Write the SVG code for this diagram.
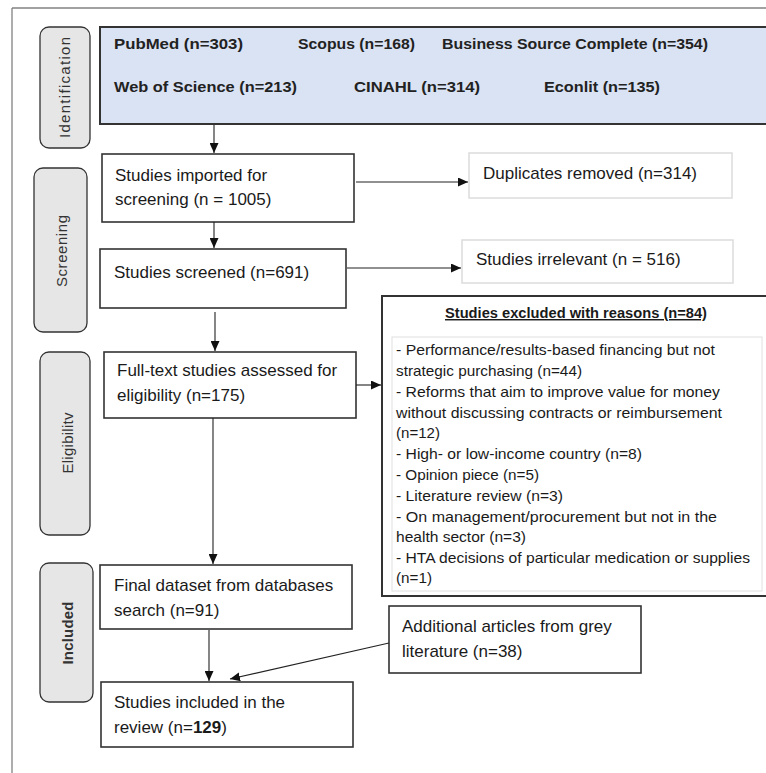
<svg xmlns="http://www.w3.org/2000/svg" width="766" height="773" viewBox="0 0 766 773">
<style>
.tab{fill:#e6e6e6;stroke:#333;stroke-width:1.3}
.box{fill:#fff;stroke:#333;stroke-width:1.6}
.lbox{fill:#fff;stroke:#dcdcdc;stroke-width:1.5}
.t{font-family:"Liberation Sans",Arial,sans-serif;font-size:17px;fill:#1a1a1a}
.h{font-family:"Liberation Sans",Arial,sans-serif;font-size:15px;font-weight:bold;fill:#222}
.tt{font-family:"Liberation Sans",Arial,sans-serif;font-size:15px;fill:#333;text-anchor:middle}
.l{font-family:"Liberation Sans",Arial,sans-serif;font-size:15px;fill:#1a1a1a}
.c{fill:none;stroke:#222;stroke-width:1.1}
</style>
<defs>
<marker id="ah" markerWidth="10" markerHeight="9" refX="10" refY="4.5" orient="auto" markerUnits="userSpaceOnUse"><path d="M0,0 L10,4.5 L0,9 z" fill="#111"/></marker>
</defs>
<rect width="766" height="773" fill="#fff"/>
<g id="frame">
<line x1="12" y1="8" x2="766" y2="8" stroke="#444" stroke-width="1.2"/>
<line x1="12" y1="8" x2="12" y2="773" stroke="#777" stroke-width="1.2"/>
</g>
<g id="tab-identification">
<rect class="tab" x="40" y="27" width="50" height="121" rx="9"/>
<text class="tt" transform="translate(70,87.5) rotate(-90)" textLength="101" lengthAdjust="spacing">Identification</text>
</g>
<g id="tab-screening">
<rect class="tab" x="34" y="168" width="53" height="164" rx="9"/>
<text class="tt" transform="translate(67,251) rotate(-90)" textLength="72" lengthAdjust="spacing">Screening</text>
</g>
<g id="tab-eligibility">
<rect class="tab" x="40" y="352" width="50" height="183" rx="9"/>
<text class="tt" transform="translate(73,443) rotate(-90)" textLength="61" lengthAdjust="spacing">Eligibilitv</text>
</g>
<g id="tab-included">
<rect class="tab" x="40" y="563" width="53" height="139" rx="9"/>
<text class="tt" transform="translate(73,633) rotate(-90)" font-weight="bold" textLength="63" lengthAdjust="spacing">Included</text>
</g>
<g id="databases">
<rect x="100" y="27" width="680" height="97" fill="#dae3f3" stroke="#333" stroke-width="2"/>
<text class="h" x="114" y="49" textLength="129" lengthAdjust="spacingAndGlyphs">PubMed (n=303)</text>
<text class="h" x="298" y="49" textLength="117" lengthAdjust="spacingAndGlyphs">Scopus (n=168)</text>
<text class="h" x="442" y="49" textLength="266" lengthAdjust="spacingAndGlyphs">Business Source Complete (n=354)</text>
<text class="h" x="114" y="92" textLength="183" lengthAdjust="spacingAndGlyphs">Web of Science (n=213)</text>
<text class="h" x="354" y="92" textLength="126" lengthAdjust="spacingAndGlyphs">CINAHL (n=314)</text>
<text class="h" x="544" y="92" textLength="116" lengthAdjust="spacingAndGlyphs">Econlit (n=135)</text>
</g>
<g id="imported">
<rect class="box" x="102" y="154" width="252" height="68"/>
<text class="t" x="115" y="181">Studies imported for</text>
<text class="t" x="115" y="205">screening (n = 1005)</text>
</g>
<g id="duplicates">
<rect class="lbox" x="469" y="153" width="263" height="45"/>
<text class="t" x="483" y="179">Duplicates removed (n=314)</text>
</g>
<g id="screened">
<rect class="box" x="100" y="249" width="246" height="59"/>
<text class="t" x="114" y="278">Studies screened (n=691)</text>
</g>
<g id="irrelevant">
<rect class="lbox" x="462" y="240" width="271" height="43"/>
<text class="t" x="476" y="265">Studies irrelevant (n = 516)</text>
</g>
<g id="fulltext">
<rect class="box" x="104" y="352" width="252" height="66"/>
<text class="t" x="117" y="376">Full-text studies assessed for</text>
<text class="t" x="117" y="401">eligibility (n=175)</text>
</g>
<g id="excluded">
<rect x="382" y="296" width="400" height="300" fill="#fff" stroke="#333" stroke-width="2"/>
<rect x="392" y="337" width="370" height="254" fill="#fff" stroke="#e0e0e0" stroke-width="1"/>
<text x="576" y="318" font-family="Liberation Sans, Arial, sans-serif" font-size="14.5" font-weight="bold" fill="#1a1a1a" text-anchor="middle" text-decoration="underline" textLength="262" lengthAdjust="spacingAndGlyphs">Studies excluded with reasons (n=84)</text>
<text class="l" x="396" y="355" textLength="319" lengthAdjust="spacingAndGlyphs">- Performance/results-based financing but not</text>
<text class="l" x="396" y="376" textLength="186" lengthAdjust="spacingAndGlyphs">strategic purchasing (n=44)</text>
<text class="l" x="396" y="397" textLength="324" lengthAdjust="spacingAndGlyphs">- Reforms that aim to improve value for money</text>
<text class="l" x="396" y="418" textLength="326" lengthAdjust="spacingAndGlyphs">without discussing contracts or reimbursement</text>
<text class="l" x="396" y="438" textLength="44" lengthAdjust="spacingAndGlyphs">(n=12)</text>
<text class="l" x="396" y="459" textLength="246" lengthAdjust="spacingAndGlyphs">- High- or low-income country (n=8)</text>
<text class="l" x="396" y="480" textLength="143" lengthAdjust="spacingAndGlyphs">- Opinion piece (n=5)</text>
<text class="l" x="396" y="501" textLength="167" lengthAdjust="spacingAndGlyphs">- Literature review (n=3)</text>
<text class="l" x="396" y="522" textLength="321" lengthAdjust="spacingAndGlyphs">- On management/procurement but not in the</text>
<text class="l" x="396" y="542" textLength="130" lengthAdjust="spacingAndGlyphs">health sector (n=3)</text>
<text class="l" x="396" y="563" textLength="354" lengthAdjust="spacingAndGlyphs">- HTA decisions of particular medication or supplies</text>
<text class="l" x="396" y="583" fill="#808080" textLength="36" lengthAdjust="spacingAndGlyphs">(n=1)</text>
</g>
<g id="final">
<rect class="box" x="100" y="565" width="252" height="64"/>
<text class="t" x="114" y="591">Final dataset from databases</text>
<text class="t" x="114" y="616">search (n=91)</text>
</g>
<g id="grey">
<rect class="box" x="389" y="606" width="252" height="67"/>
<text class="t" x="402" y="632">Additional articles from grey</text>
<text class="t" x="402" y="657">literature (n=38)</text>
</g>
<g id="included">
<rect class="box" x="101" y="682" width="252" height="65"/>
<text class="t" x="114" y="708">Studies included in the</text>
<text class="t" x="114" y="733">review (n=<tspan font-weight="bold">129</tspan>)</text>
</g>
<g id="connectors">
<line class="c" x1="214" y1="125" x2="214" y2="153" marker-end="url(#ah)"/>
<line class="c" x1="356" y1="182" x2="468" y2="182" stroke="#777" marker-end="url(#ah)"/>
<line class="c" x1="214" y1="222" x2="214" y2="248" marker-end="url(#ah)"/>
<line class="c" x1="347" y1="268" x2="461" y2="268" stroke="#777" marker-end="url(#ah)"/>
<line class="c" x1="215" y1="312" x2="215" y2="351" marker-end="url(#ah)"/>
<line class="c" x1="356" y1="385" x2="381" y2="385" marker-end="url(#ah)"/>
<line class="c" x1="213" y1="418" x2="213" y2="564" marker-end="url(#ah)"/>
<line class="c" x1="209" y1="630" x2="209" y2="681" marker-end="url(#ah)"/>
<line class="c" x1="389" y1="643" x2="230" y2="679" marker-end="url(#ah)"/>
</g>
</svg>
